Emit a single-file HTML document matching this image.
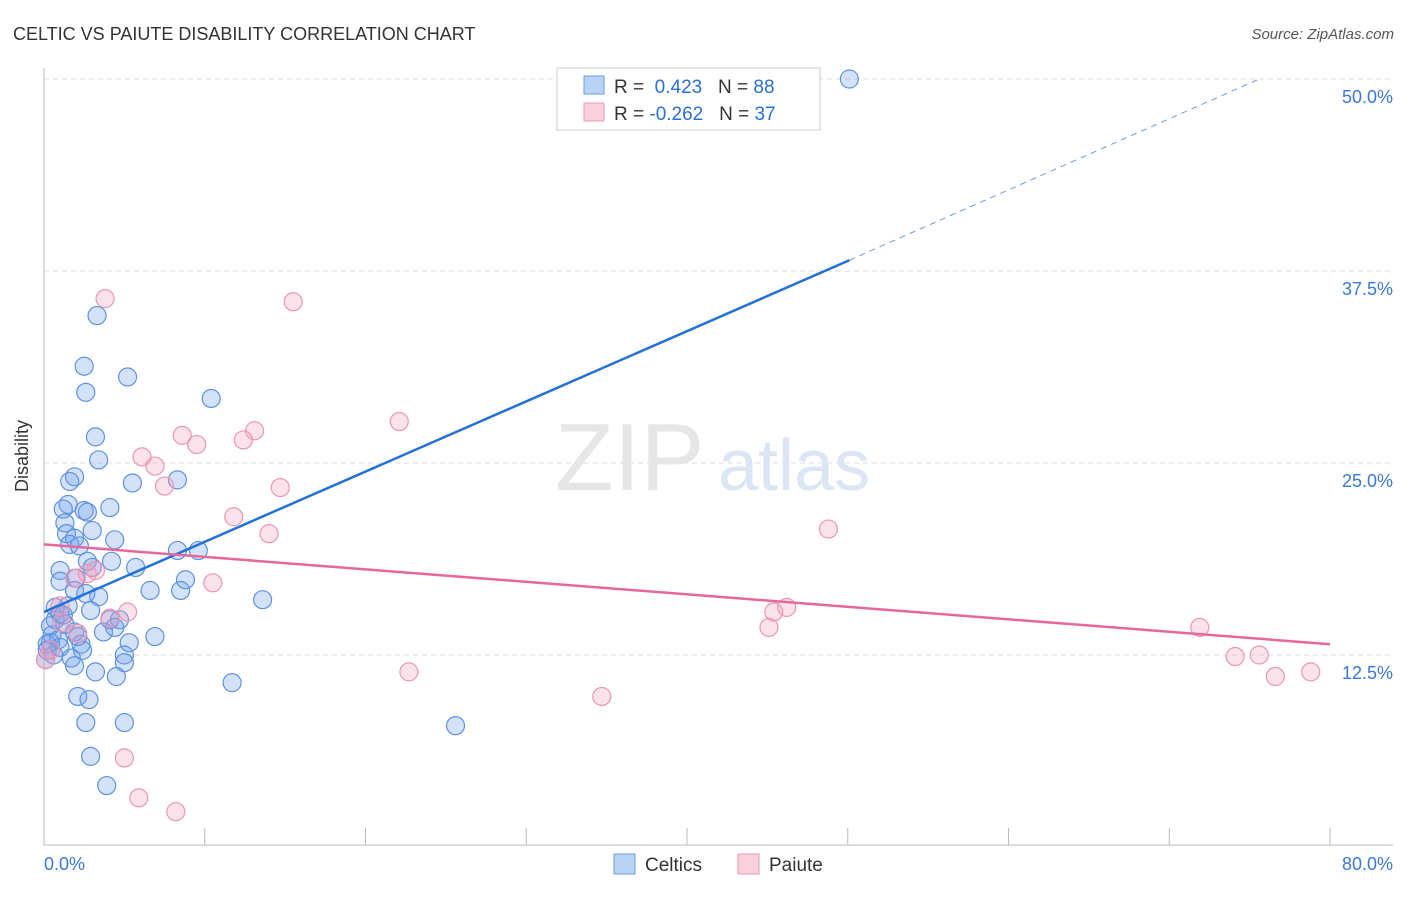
<!DOCTYPE html>
<html><head><meta charset="utf-8"><style>
body{margin:0;background:#fff;font-family:"Liberation Sans",sans-serif;}
svg text{font-family:"Liberation Sans",sans-serif;}
</style></head><body>
<svg width="1406" height="892" xmlns="http://www.w3.org/2000/svg">
<text x="13" y="40" font-size="18" fill="#333">CELTIC VS PAIUTE DISABILITY CORRELATION CHART</text>
<text x="1394" y="39" font-size="15" fill="#555" text-anchor="end" font-style="italic">Source: ZipAtlas.com</text>
<g id="grid"></g>
<text x="555" y="490" font-size="96" fill="#e6e6e6" font-family="Liberation Serif">ZIP</text>
<text x="718" y="490" font-size="72" fill="#dbe6f5">atlas</text>
<line x1="44" y1="68" x2="44" y2="845" stroke="#bbb"/>
<line x1="44" y1="845" x2="1393" y2="845" stroke="#bbb"/>
<text x="28" y="456" font-size="18" fill="#333" text-anchor="middle" transform="rotate(-90 28 456)">Disability</text>
<text x="44" y="870" font-size="18" fill="#3b78d8">0.0%</text>
<text x="1393" y="870" font-size="18" fill="#3b78d8" text-anchor="end">80.0%</text>
<g id="pts"></g>
<g id="lines"></g>
<g>
<rect x="557" y="68" width="263" height="62" fill="#fff" stroke="#ccc"/>
<rect x="584" y="76" width="20" height="18" fill="#b9d3f5" stroke="#6a9be0"/>
<rect x="584" y="103" width="20" height="18" fill="#fbd0dd" stroke="#ec9ab4"/>
<text x="614" y="93" font-size="19" fill="#333">R = <tspan fill="#2a6fd6">&#160;0.423</tspan>&#160;&#160;&#160;N = <tspan fill="#2a6fd6">88</tspan></text>
<text x="614" y="120" font-size="19" fill="#333">R = <tspan fill="#2a6fd6">-0.262</tspan>&#160;&#160;&#160;N = <tspan fill="#2a6fd6">37</tspan></text>
</g>
<g>
<rect x="614" y="854" width="21" height="20" fill="#b9d3f5" stroke="#6a9be0"/>
<text x="645" y="871" font-size="19" fill="#333">Celtics</text>
<rect x="738" y="854" width="21" height="20" fill="#fbd0dd" stroke="#ec9ab4"/>
<text x="769" y="871" font-size="19" fill="#333">Paiute</text>
</g>
</svg>
<script>
const yTicks=[12.5,25.0,37.5,50.0];
const xTicks=[0,10,20,30,40,50,60,70,80];
const celticsX=[50.1,3.3,2.5,5.2,2.6,10.4,3.2,3.4,1.9,1.6,5.5,8.3,1.5,1.2,4.1,2.5,2.7,1.3,3.0,1.4,1.9,1.6,2.2,4.4,8.3,9.6,1.0,2.7,4.2,3.0,5.7,1.0,2.0,6.6,8.8,8.5,1.9,3.4,2.6,13.6,1.5,0.7,1.0,2.9,0.7,0.4,1.3,4.1,4.7,1.9,3.7,4.4,6.9,0.5,0.9,2.1,0.2,2.3,5.3,0.2,1.0,2.4,5.0,0.6,5.0,1.7,1.9,3.2,4.5,11.7,2.1,2.8,2.6,5.0,25.6,2.9,3.9,0.1,0.4,1.2];
const celticsY=[50.0,34.6,31.3,30.6,29.6,29.2,26.7,25.2,24.1,23.8,23.7,23.9,22.3,22.0,22.1,21.9,21.8,21.1,20.6,20.4,20.1,19.7,19.6,20.0,19.3,19.3,18.0,18.6,18.6,18.2,18.2,17.3,17.5,16.7,17.4,16.7,16.7,16.3,16.5,16.1,15.7,15.6,15.2,15.4,14.8,14.4,14.5,14.8,14.8,14.0,14.0,14.3,13.7,13.8,13.5,13.7,13.2,13.2,13.3,12.8,13.0,12.8,12.5,12.5,12.0,12.3,11.8,11.4,11.1,10.7,9.8,9.6,8.1,8.1,7.9,5.9,4.0,12.2,13.3,15.1];
const paiuteX=[3.8,15.5,22.1,13.1,8.6,9.5,12.4,6.1,6.9,7.5,14.7,11.8,48.8,14.0,3.2,2.7,10.5,1.9,5.2,4.1,46.2,45.4,45.1,71.9,1.0,1.1,2.1,74.1,75.6,76.6,78.8,22.7,34.7,5.0,5.9,8.2,0.1,0.4];
const paiuteY=[35.7,35.5,27.7,27.1,26.8,26.2,26.5,25.4,24.8,23.5,23.4,21.5,20.7,20.4,18.0,17.8,17.2,17.5,15.3,14.9,15.6,15.3,14.3,14.3,15.7,14.6,13.9,12.4,12.5,11.1,11.4,11.4,9.8,5.8,3.2,2.3,12.2,12.8];
const celticsTrend=[15.3,38.2,50.0]; const celticsTrendX=[0,50.1,75.6];
const paiuteTrend=[19.7,13.2]; const paiuteTrendX=[0,80];
const NS="http://www.w3.org/2000/svg";
const sx=v=>44+v/80*1286, sy=v=>847-v*15.36;
function mk(t,a,p){const e=document.createElementNS(NS,t);for(const k in a)e.setAttribute(k,a[k]);p.appendChild(e);return e;}
const g=document.getElementById('grid');
yTicks.forEach(v=>{
 const l=mk('line',{x1:44,x2:1393,y1:sy(v),y2:sy(v),stroke:'#ddd','stroke-dasharray':'5,4'},g);
 
 
 const t=mk('text',{x:1393,y:sy(v)+24,'font-size':18,fill:'#3b78d8','text-anchor':'end'},g);
 t.textContent=v.toFixed(1)+'%';
 
 
});
xTicks.forEach(v=>{
 const l=mk('line',{x1:sx(v),x2:sx(v),y1:828,y2:845,stroke:'#bbb'},g);
 
 
});
const p=document.getElementById('pts');
celticsX.forEach((x,i)=>{
 const c=mk('circle',{cx:sx(x),cy:sy(celticsY[i]),r:9,fill:'rgba(110,160,235,0.3)',stroke:'#5d92e0','stroke-width':1.2},p);
 
 
});
paiuteX.forEach((x,i)=>{
 const c=mk('circle',{cx:sx(x),cy:sy(paiuteY[i]),r:9,fill:'rgba(245,160,190,0.3)',stroke:'#ec95b2','stroke-width':1.2},p);
 
 
});
const L=document.getElementById('lines');
let a=mk('line',{x1:sx(celticsTrendX[0]),y1:sy(celticsTrend[0]),x2:sx(celticsTrendX[1]),y2:sy(celticsTrend[1]),stroke:'#2270d8','stroke-width':2.5},L);


a=mk('line',{x1:sx(celticsTrendX[1]),y1:sy(celticsTrend[1]),x2:sx(celticsTrendX[2]),y2:sy(celticsTrend[2]),stroke:'#6a9be0','stroke-width':1,'stroke-dasharray':'6,5'},L);


a=mk('line',{x1:sx(paiuteTrendX[0]),y1:sy(paiuteTrend[0]),x2:sx(paiuteTrendX[1]),y2:sy(paiuteTrend[1]),stroke:'#e5689a','stroke-width':2.5},L);


</script>
</body></html>
